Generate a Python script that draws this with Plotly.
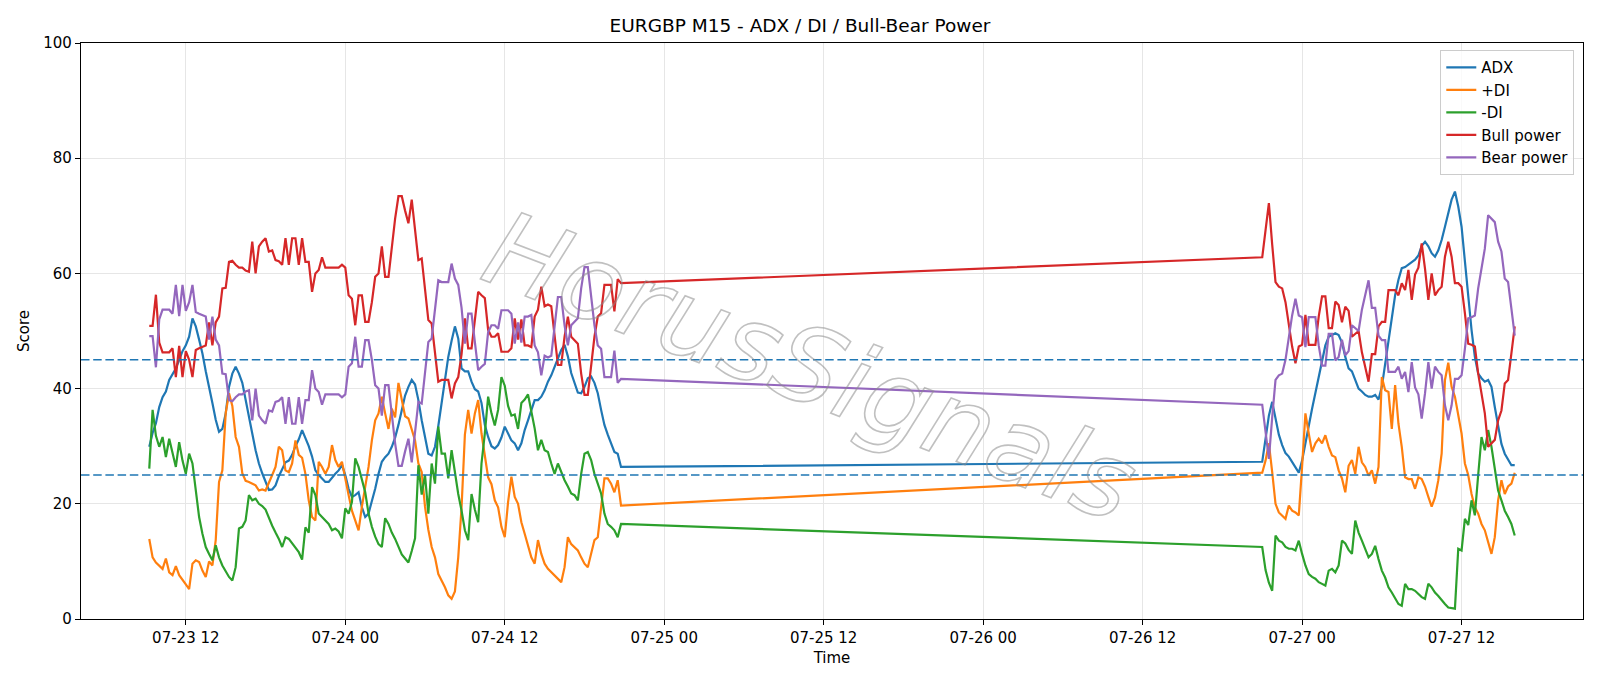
import pandas as pd
import plotly.graph_objects as go

# ---- time axis: two trading segments (M15 bars) ----
seg1_start = "2020-07-23 09:15"
seg1_bars = 143
seg2_start = "2020-07-26 21:00"
seg2_bars = 77

adx_1 = [29.9, 32.3, 34.0, 36.8, 38.5, 39.5, 41.5, 42.5, 43.5, 45.0,
         46.5, 47.5, 49.0, 52.2, 50.8, 48.5, 46.1, 43.0, 40.5, 37.5,
         34.6, 32.5, 33.0, 35.7, 40.3, 42.6, 43.8, 42.6, 41.0, 38.0,
         34.6, 32.2, 29.3, 27.0, 25.3, 23.8, 22.4, 22.5, 23.2, 24.8,
         26.0, 27.2, 27.5, 28.5, 30.0, 31.2, 32.8, 31.5, 30.0, 28.2,
         25.8, 25.0, 24.3, 23.8, 23.8, 24.6, 25.2, 25.8, 26.7, 25.0,
         22.6, 21.2, 21.5, 22.0, 19.4, 17.7, 18.3, 20.5, 22.6, 25.2,
         27.3, 28.1, 28.7, 29.9, 31.5, 33.7, 36.5, 38.8, 40.3, 41.5,
         40.7, 38.0, 34.5, 31.7, 28.7, 28.4, 29.9, 33.5, 37.5, 41.6,
         45.5, 48.3, 50.8, 48.7, 43.5, 43.0, 43.0, 41.2, 39.9, 39.5,
         37.5, 33.7, 31.6, 30.0, 29.6, 30.2, 31.5, 33.4, 32.2, 31.0,
         30.5, 29.3, 30.5, 32.8, 34.5, 36.3, 38.0, 38.0, 38.6, 39.7,
         41.2, 42.3, 43.8, 45.3, 46.7, 47.6, 45.6, 42.7, 41.0, 39.3,
         39.2, 40.3, 41.8, 42.1, 41.0, 39.2, 36.3, 33.7, 32.0, 30.5,
         29.0, 28.7, 26.4]
pdi_1 = [13.9, 10.7, 9.8, 9.2, 8.7, 10.5, 8.1, 7.6, 9.2, 7.6,
         6.7, 6.0, 5.2, 9.6, 10.2, 9.9, 8.4, 7.3, 10.0, 9.3,
         13.7, 23.8, 25.8, 35.7, 39.2, 37.0, 31.6, 29.9, 25.3, 24.0,
         23.8, 23.5, 23.2, 22.3, 22.5, 22.3, 23.8, 25.0, 26.4, 29.9,
         29.3, 25.8, 25.5, 27.0, 31.0, 28.5, 28.0, 25.2, 20.6, 17.7,
         17.1, 27.3, 26.4, 25.2, 26.4, 30.2, 27.6, 26.4, 27.3, 24.1,
         21.5, 18.8, 17.1, 15.4, 19.5, 23.0, 26.4, 31.0, 34.5, 35.7,
         38.6, 35.7, 33.0, 36.5, 35.0, 41.0, 38.0, 35.2, 34.8, 33.0,
         31.0, 27.0, 25.5, 19.5, 15.5, 12.5, 10.7, 7.8, 6.7, 5.5,
         4.1, 3.5, 4.8, 10.7, 19.4, 32.0, 36.3, 32.2, 35.7, 38.0,
         32.2, 28.4, 24.6, 23.4, 20.6, 19.4, 16.0, 14.2, 20.3, 24.7,
         21.2, 20.0, 16.8, 14.8, 12.5, 10.7, 9.6, 13.7, 11.3, 9.6,
         8.7, 8.1, 7.6, 7.0, 6.4, 9.0, 14.2, 13.0, 12.5, 11.9,
         10.7, 9.6, 9.0, 11.3, 13.7, 14.2, 18.8, 24.4, 24.4, 23.5,
         22.0, 24.1, 19.7]
mdi_1 = [26.1, 36.3, 31.8, 29.9, 31.6, 28.1, 31.3, 28.7, 26.4, 30.7,
         27.5, 25.2, 28.7, 27.0, 22.3, 17.7, 14.8, 12.5, 11.3, 10.2,
         12.8, 10.7, 9.3, 8.4, 7.3, 6.7, 9.0, 15.7, 16.0, 17.1,
         21.5, 20.6, 20.9, 20.0, 19.6, 19.0, 17.5, 16.2, 15.0, 13.9,
         12.5, 14.2, 13.9, 13.2, 12.4, 11.6, 10.3, 15.9, 15.0, 22.9,
         21.5, 18.3, 17.7, 17.1, 16.5, 15.4, 15.7, 15.2, 14.0, 19.2,
         18.3, 20.3, 27.9, 26.4, 24.1, 22.0, 18.3, 16.0, 14.3, 13.0,
         12.5, 17.5, 16.5, 15.0, 13.9, 12.5, 11.2, 10.5, 9.8, 11.8,
         14.0, 26.7, 21.6, 25.0, 18.3, 27.0, 23.5, 33.4, 28.7, 28.7,
         24.4, 29.3, 25.2, 21.7, 18.8, 15.4, 13.7, 21.7, 19.0, 16.8,
         27.0, 32.2, 38.6, 35.7, 33.6, 36.3, 42.0, 40.5, 37.0, 35.3,
         35.5, 33.0, 37.5, 38.1, 39.0, 36.0, 33.1, 29.3, 31.1, 29.3,
         29.0, 27.0, 25.2, 27.0, 25.5, 24.1, 23.0, 21.8, 21.5, 20.6,
         25.2, 28.7, 29.0, 27.6, 25.2, 23.5, 21.8, 18.3, 16.5, 16.0,
         15.4, 14.2, 16.5]
bull_1 = [50.9, 50.9, 56.3, 48.0, 46.3, 46.3, 46.3, 47.0, 42.0, 47.4,
          42.0, 46.5, 45.0, 42.0, 46.7, 47.0, 47.3, 47.5, 51.5, 47.5,
          51.5, 52.5, 57.4, 57.5, 62.0, 62.2, 61.5, 61.0, 61.0, 60.5,
          60.3, 65.5, 60.0, 64.7, 65.5, 66.1, 63.8, 64.0, 62.3, 62.1,
          61.5, 66.1, 61.5, 66.1, 66.1, 61.5, 66.1, 62.0, 62.0, 56.8,
          60.0, 60.6, 62.8, 61.0, 61.0, 61.0, 61.0, 61.0, 61.5, 61.0,
          56.2, 55.6, 51.0, 56.2, 56.2, 51.6, 51.6, 55.0, 59.4, 60.0,
          64.7, 59.4, 59.4, 64.7, 69.5, 73.4, 73.4, 70.9, 68.7, 72.8,
          67.0, 62.3, 62.6, 57.0, 51.9, 51.3, 46.5, 41.2, 41.5, 41.5,
          41.5, 38.3, 40.9, 42.0, 46.0, 52.2, 47.0, 47.0, 51.9, 56.8,
          56.2, 55.7, 50.2, 49.0, 49.0, 49.6, 46.4, 46.4, 46.4, 47.0,
          52.2, 48.5, 52.0, 47.5, 47.5, 47.2, 52.5, 53.7, 57.7, 54.3,
          54.6, 54.3, 49.0, 44.1, 44.1, 49.0, 52.5, 49.0, 48.4, 47.8,
          42.6, 38.9, 38.9, 43.8, 49.0, 52.5, 53.1, 58.0, 58.0, 58.0,
          53.4, 59.0, 58.3]
bear_1 = [49.1, 49.1, 43.7, 52.0, 53.7, 53.7, 53.7, 53.0, 58.0, 52.6,
          58.0, 53.5, 55.0, 58.0, 53.3, 53.0, 52.7, 52.5, 48.5, 52.5,
          48.5, 47.5, 42.6, 42.5, 38.0, 37.8, 38.5, 39.0, 39.0, 39.5,
          39.7, 34.5, 40.0, 35.3, 34.5, 33.9, 36.2, 36.0, 37.7, 37.9,
          38.5, 33.9, 38.5, 33.9, 33.9, 38.5, 33.9, 38.0, 38.0, 43.2,
          40.0, 39.4, 37.2, 39.0, 39.0, 39.0, 39.0, 39.0, 38.5, 39.0,
          43.8, 44.4, 49.0, 43.8, 43.8, 48.4, 48.4, 45.0, 40.6, 40.0,
          35.3, 40.6, 40.6, 35.3, 30.5, 26.6, 26.6, 29.1, 31.3, 27.2,
          33.0, 37.7, 37.4, 43.0, 48.1, 48.7, 53.5, 58.8, 58.5, 58.5,
          58.5, 61.7, 59.1, 58.0, 54.0, 47.8, 53.0, 53.0, 48.1, 43.2,
          43.8, 44.3, 49.8, 51.0, 51.0, 50.4, 53.6, 53.6, 53.6, 53.0,
          47.8, 51.5, 48.0, 52.5, 52.5, 52.8, 47.5, 46.3, 42.3, 45.7,
          45.4, 45.7, 51.0, 55.9, 55.9, 51.0, 47.5, 51.0, 51.6, 52.2,
          57.4, 61.1, 61.1, 56.2, 51.0, 47.5, 46.9, 42.0, 42.0, 42.0,
          46.6, 41.0, 41.7]

adx_2 = [27.3, 31.7, 35.3, 37.7, 34.5, 32.0, 30.2, 28.8, 28.2, 27.3,
         26.4, 25.4, 27.5, 30.8, 33.5, 36.5, 39.3, 42.2, 45.0, 47.5,
         49.0, 49.3, 49.6, 49.3, 48.0, 45.5, 43.5, 43.0, 41.5, 40.0,
         39.5, 38.9, 38.6, 38.6, 38.9, 38.1, 40.3, 44.4, 48.5, 52.4,
         56.2, 58.9, 60.9, 61.1, 61.5, 62.0, 62.4, 63.1, 64.8, 65.5,
         64.7, 63.5, 62.9, 64.0, 65.8, 68.1, 70.4, 72.8, 74.2, 71.6,
         68.1, 61.8, 55.9, 50.2, 45.5, 42.6, 41.8, 41.2, 41.5, 40.3,
         36.8, 33.4, 30.4, 28.7, 27.6, 26.7, 26.7]
pdi_2 = [25.4, 27.5, 30.5, 25.5, 20.0, 18.5, 18.0, 17.4, 19.7, 18.8,
         18.5, 18.0, 26.5, 35.7, 32.2, 29.0, 30.5, 31.3, 30.5, 31.9,
         29.9, 28.4, 28.1, 25.8, 24.4, 22.0, 26.6, 27.6, 25.2, 29.9,
         27.2, 26.4, 24.9, 25.8, 23.5, 26.4, 42.0, 39.7, 39.4, 33.0,
         40.6, 33.9, 29.9, 24.6, 24.3, 24.3, 22.6, 24.6, 24.3, 23.0,
         21.2, 19.5, 21.1, 24.1, 28.7, 41.5, 44.5, 40.3, 38.6, 35.3,
         32.2, 27.0, 25.0, 21.7, 19.4, 18.3, 16.5, 15.4, 13.3, 11.3,
         14.2, 20.6, 24.1, 21.7, 23.0, 23.5, 25.4]
mdi_2 = [12.5, 8.5, 6.3, 4.9, 14.5, 13.6, 13.3, 12.5, 12.2, 12.2,
         11.9, 13.6, 11.3, 9.3, 7.8, 7.3, 7.0, 6.4, 6.1, 5.8,
         8.4, 8.7, 8.1, 9.3, 13.6, 13.1, 12.0, 11.3, 17.1, 15.0,
         13.6, 12.2, 10.7, 11.3, 12.7, 10.4, 8.4, 7.2, 5.5, 4.6,
         3.5, 2.6, 2.3, 6.1, 5.2, 5.2, 4.9, 4.4, 3.8, 3.5,
         6.1, 5.5, 4.6, 4.0, 3.2, 2.6, 2.0, 1.9, 1.8, 12.2,
         11.9, 17.4, 16.3, 20.6, 18.0, 25.0, 31.6, 29.3, 32.8, 29.9,
         25.7, 22.3, 20.6, 18.8, 17.7, 16.5, 14.5]
bull_2 = [62.8, 67.5, 72.2, 65.0, 58.5, 57.7, 57.4, 55.0, 50.8, 47.3,
          44.4, 47.3, 47.6, 52.8, 47.6, 47.6, 47.6, 52.5, 56.0, 56.0,
          50.5, 50.5, 55.1, 54.5, 51.5, 54.2, 53.5, 49.0, 49.5, 50.0,
          46.3, 44.0, 41.2, 46.0, 46.0, 50.8, 51.6, 51.6, 57.1, 57.1,
          57.1, 56.2, 58.3, 57.1, 60.6, 55.4, 59.8, 61.0, 65.2, 60.8,
          55.4, 60.0, 56.2, 57.1, 57.7, 62.9, 65.5, 62.9, 58.3, 58.3,
          57.7, 53.1, 47.8, 47.6, 47.3, 42.6, 39.2, 35.7, 29.9, 30.5,
          31.1, 34.5, 36.2, 40.9, 41.5, 46.1, 50.8]
bear_2 = [37.2, 32.5, 27.8, 35.0, 41.5, 42.3, 42.6, 45.0, 49.2, 52.7,
          55.6, 52.7, 52.4, 47.2, 52.4, 52.4, 52.4, 47.5, 44.0, 44.0,
          49.5, 49.5, 44.9, 45.5, 48.5, 45.8, 46.5, 51.0, 50.5, 50.0,
          53.7, 56.0, 58.8, 54.0, 54.0, 49.2, 48.4, 48.4, 42.9, 42.9,
          42.9, 43.8, 41.7, 42.9, 39.4, 44.6, 40.2, 39.0, 34.8, 39.2,
          44.6, 40.0, 43.8, 42.9, 42.3, 37.1, 34.5, 37.1, 41.7, 41.7,
          42.3, 46.9, 52.2, 52.4, 52.7, 57.4, 60.8, 64.3, 70.1, 69.5,
          68.9, 65.5, 63.8, 59.1, 58.5, 53.9, 49.2]

series_names = ["ADX", "+DI", "-DI", "Bull power", "Bear power"]
series_colors = ["#1f77b4", "#ff7f0e", "#2ca02c", "#d62728", "#9467bd"]
thresholds = [25, 45]
y_ticks = [0, 20, 40, 60, 80, 100]

for a in [adx_1, pdi_1, mdi_1, bull_1, bear_1]:
    assert len(a) == seg1_bars
for a in [adx_2, pdi_2, mdi_2, bull_2, bear_2]:
    assert len(a) == seg2_bars

times = list(pd.date_range(seg1_start, periods=seg1_bars, freq="15min")) + \
        list(pd.date_range(seg2_start, periods=seg2_bars, freq="15min"))
series_values = [adx_1 + adx_2, pdi_1 + pdi_2, mdi_1 + mdi_2,
                 bull_1 + bull_2, bear_1 + bear_2]

FONT = "DejaVu Sans"
fig = go.Figure()
for name, col, vals in zip(series_names, series_colors, series_values):
    fig.add_trace(go.Scatter(x=times, y=vals, mode="lines", name=name,
                             line=dict(color=col, width=2.2)))

for th in thresholds:
    fig.add_shape(type="line", xref="paper", x0=0, x1=1, yref="y", y0=th, y1=th,
                  line=dict(color="#1f77b4", width=1.5, dash="8.5px,3.7px"), layer="above")

t0, t1 = times[0], times[-1]
pad = (t1 - t0) * 0.05
xr = [t0 - pad, t1 + pad]

axis_common = dict(showline=True, linecolor="black", linewidth=1.2, mirror=True,
                   ticks="outside", ticklen=5, tickwidth=1.2, tickcolor="black",
                   showgrid=True, gridcolor="#e6e6e6", gridwidth=1.2,
                   zeroline=False, tickfont=dict(family=FONT, size=15, color="black"))

fig.update_layout(
    width=1600, height=686,
    margin=dict(l=81, r=17, t=43, b=67),
    paper_bgcolor="white", plot_bgcolor="white",
    font=dict(family=FONT, size=15, color="black"),
    title=dict(text="EURGBP M15 - ADX / DI / Bull-Bear Power", x=0.5, xanchor="center",
               y=1 - 26 / 686, yanchor="middle", font=dict(family=FONT, size=18.5, color="black")),
    xaxis=dict(type="date", range=xr, tickformat="%m-%d %H", dtick=12 * 3600 * 1000,
               tick0="2020-07-23 00:00",
               title=dict(text="Time", standoff=6, font=dict(family=FONT, size=15)),
               **axis_common),
    yaxis=dict(range=[0, 100], tickvals=y_ticks,
               title=dict(text="Score", standoff=10, font=dict(family=FONT, size=15)),
               **axis_common),
    legend=dict(x=0.9942, y=0.9875, xanchor="right", yanchor="top",
                bgcolor="rgba(255,255,255,0.8)", bordercolor="#cccccc", borderwidth=1,
                font=dict(family=FONT, size=15, color="black"), tracegroupgap=0),
    showlegend=True,
)

fig.add_annotation(text="HorusSignals", xref="paper", yref="paper", x=0.486, y=0.438,
                   showarrow=False, textangle=21,
                   font=dict(family=FONT, size=105, color="rgba(150,150,150,0.35)", style="italic"))

post = """
var gd = document.getElementById('{plot_id}');
function outlineWM(){
  var ts = gd.querySelectorAll('g.annotation text');
  ts.forEach(function(t){
    if (t.textContent === 'HorusSignals') {
      t.style.fill = 'none';
      t.style.stroke = 'rgba(140,140,140,0.55)';
      t.style.strokeWidth = '1.6px';
    }
  });
}
outlineWM();
gd.on('plotly_afterplot', outlineWM);
"""

fig.write_html("out.html", post_script=post)
